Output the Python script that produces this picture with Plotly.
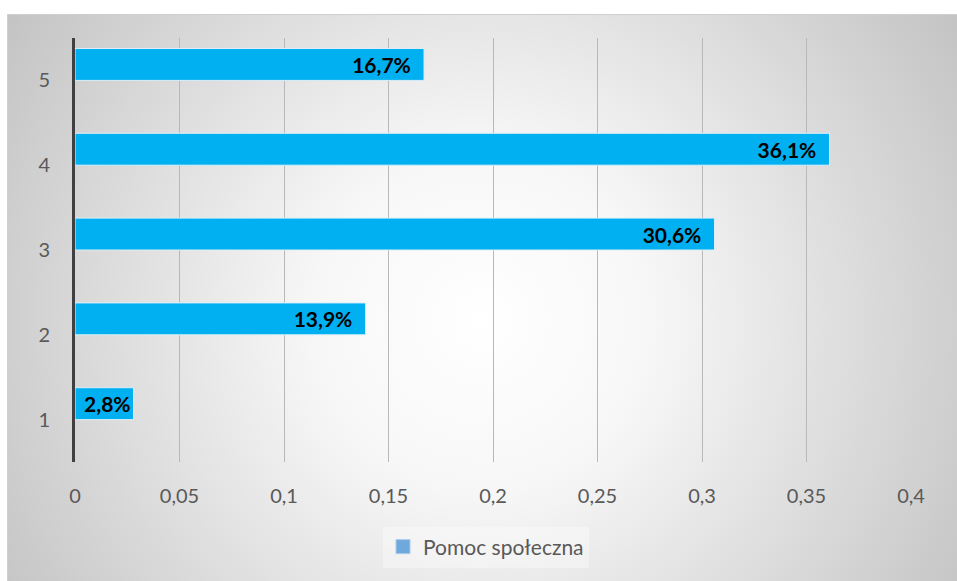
import base64
import plotly.graph_objects as go

categories = ["1", "2", "3", "4", "5"]
values = [0.028, 0.139, 0.306, 0.361, 0.167]
series_name = "Pomoc społeczna"
x_ticks = [0, 0.05, 0.1, 0.15, 0.2, 0.25, 0.3, 0.35, 0.4]

W, H = 957, 581
ML, MR, MT, MB = 75, 46, 38, 119
PW, PH = W - ML - MR, H - MT - MB

# trailing padding inside bar end (skipped when the bar is too short for the label)
labels = [f"{v*100:.1f}%".replace(".", ",") + ("\u00a0\u00a0" if v > 0.05 else "")
          for v in values]

svg = f'''<svg xmlns="http://www.w3.org/2000/svg" width="{W}" height="{H}" viewBox="0 0 {W} {H}">
<defs><radialGradient id="g" gradientUnits="userSpaceOnUse" cx="482" cy="320" r="560">
<stop offset="0" stop-color="#ffffff"/><stop offset="0.3" stop-color="#f7f7f7"/><stop offset="1" stop-color="#c4c4c4"/></radialGradient></defs>
<rect x="0" y="0" width="{W}" height="{H}" fill="#ffffff"/>
<rect x="7.5" y="14.5" width="{W}" height="{H}" fill="url(#g)" stroke="#cfcfcf" stroke-width="1"/>
</svg>'''
src = "data:image/svg+xml;base64," + base64.b64encode(svg.encode()).decode()

fig = go.Figure()
fig.add_trace(go.Bar(
    x=values, y=categories, orientation="h",
    width=0.376, offset=0.0,
    marker=dict(color="#00B0F0", line=dict(color="#DDEEF8", width=1)),
    text=labels, textposition="inside", insidetextanchor="end",
    constraintext="none", textangle=0, cliponaxis=False,
    textfont=dict(family="Lato", size=21, color="#000000", weight="bold"),
    showlegend=False, hoverinfo="skip",
))
fig.add_trace(go.Scatter(
    x=[None], y=[None], mode="markers", name=series_name,
    marker=dict(symbol="square", size=14, color="#6FA8DC",
                line=dict(color="#A9CBEB", width=1)),
    showlegend=True,
))

fig.update_layout(
    width=W, height=H,
    margin=dict(l=ML, r=MR, t=MT, b=MB, pad=0),
    paper_bgcolor="#ffffff", plot_bgcolor="rgba(0,0,0,0)",
    separators=", ",
    font=dict(family="Lato", color="#595959"),
    images=[dict(source=src, xref="paper", yref="paper",
                 x=-ML / PW, y=1 + MT / PH, sizex=W / PW, sizey=H / PH,
                 xanchor="left", yanchor="top", sizing="stretch", layer="below")],
    xaxis=dict(range=[0, 0.4], tickvals=x_ticks, showgrid=True,
               gridcolor="#b8b8b8", gridwidth=1, zeroline=False, showline=False,
               tickfont=dict(size=20, color="#595959"), ticklabelstandoff=20,
               fixedrange=True),
    yaxis=dict(type="category", categoryarray=categories, range=[-0.5, 4.5],
               showgrid=False,
               showline=True, linecolor="#404040", linewidth=3, zeroline=False,
               tickfont=dict(size=20, color="#595959"), ticklabelstandoff=18,
               fixedrange=True),
    legend=dict(orientation="h", x=(486 - ML) / PW, xanchor="center",
                y=-(547 - (MT + PH)) / PH, yanchor="middle",
                bgcolor="rgba(255,255,255,0.35)", borderwidth=0,
                font=dict(family="Lato", size=21, color="#595959")),
)

fig.write_html("out.html", config={"displayModeBar": False},
               post_script="document.body.style.margin='0px';document.body.style.overflow='hidden';")
